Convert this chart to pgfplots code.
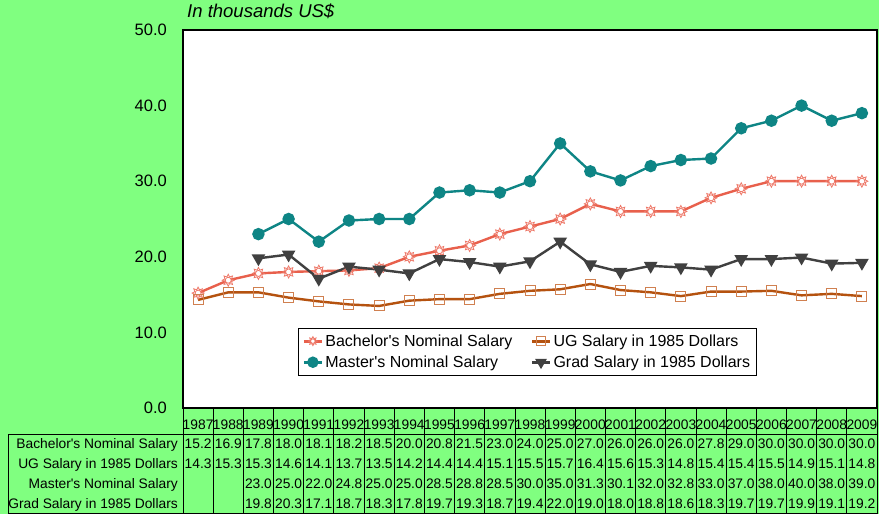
\documentclass[border=0pt]{standalone}
\usepackage{pgfplots}
\pgfplotsset{compat=1.18}
\usepackage{pgfplotstable}
\usetikzlibrary{plotmarks}
\usepackage{fontspec}
\setmainfont{Liberation Sans}
\definecolor{bg}{HTML}{80FF80}
\definecolor{bach}{HTML}{E8604C}
\definecolor{bachm}{HTML}{EE7868}
\definecolor{ug}{HTML}{B5520F}
\definecolor{ugm}{HTML}{D08050}
\definecolor{mast}{HTML}{0E8585}
\definecolor{grad}{HTML}{404040}

\pgfdeclareplotmark{sun}{%
  \pgfpathcircle{\pgfpointorigin}{0.5\pgfplotmarksize}%
  \pgfusepathqfillstroke
  \pgfpathmoveto{\pgfpointpolar{0}{\pgfplotmarksize}}%
  \pgfpathlineto{\pgfpointpolar{22.5}{0.6\pgfplotmarksize}}%
  \pgfpathlineto{\pgfpointpolar{45}{\pgfplotmarksize}}%
  \pgfpathlineto{\pgfpointpolar{67.5}{0.6\pgfplotmarksize}}%
  \pgfpathlineto{\pgfpointpolar{90}{\pgfplotmarksize}}%
  \pgfpathlineto{\pgfpointpolar{112.5}{0.6\pgfplotmarksize}}%
  \pgfpathlineto{\pgfpointpolar{135}{\pgfplotmarksize}}%
  \pgfpathlineto{\pgfpointpolar{157.5}{0.6\pgfplotmarksize}}%
  \pgfpathlineto{\pgfpointpolar{180}{\pgfplotmarksize}}%
  \pgfpathlineto{\pgfpointpolar{202.5}{0.6\pgfplotmarksize}}%
  \pgfpathlineto{\pgfpointpolar{225}{\pgfplotmarksize}}%
  \pgfpathlineto{\pgfpointpolar{247.5}{0.6\pgfplotmarksize}}%
  \pgfpathlineto{\pgfpointpolar{270}{\pgfplotmarksize}}%
  \pgfpathlineto{\pgfpointpolar{292.5}{0.6\pgfplotmarksize}}%
  \pgfpathlineto{\pgfpointpolar{315}{\pgfplotmarksize}}%
  \pgfpathlineto{\pgfpointpolar{337.5}{0.6\pgfplotmarksize}}%
  \pgfpathclose
  \pgfusepathqstroke
}

\pgfplotstableread{
x bach ug mast grad
0 15.2 14.3 nan nan
1 16.9 15.3 nan nan
2 17.8 15.3 23.0 19.8
3 18.0 14.6 25.0 20.3
4 18.1 14.1 22.0 17.1
5 18.2 13.7 24.8 18.7
6 18.5 13.5 25.0 18.3
7 20.0 14.2 25.0 17.8
8 20.8 14.4 28.5 19.7
9 21.5 14.4 28.8 19.3
10 23.0 15.1 28.5 18.7
11 24.0 15.5 30.0 19.4
12 25.0 15.7 35.0 22.0
13 27.0 16.4 31.3 19.0
14 26.0 15.6 30.1 18.0
15 26.0 15.3 32.0 18.8
16 26.0 14.8 32.8 18.6
17 27.8 15.4 33.0 18.3
18 29.0 15.4 37.0 19.7
19 30.0 15.5 38.0 19.7
20 30.0 14.9 40.0 19.9
21 30.0 15.1 38.0 19.1
22 30.0 14.8 39.0 19.2
}\data

\def\nanstr{nan}
\newcommand\tabfont{\fontsize{13.8}{15}\selectfont}

\begin{document}
\begin{tikzpicture}
\fill[bg] (-183pt,-106pt) rectangle (696pt,408pt);
\useasboundingbox (-183pt,-106pt) rectangle (696pt,408pt);
\begin{axis}[
  at={(0pt,0pt)}, anchor=south west,
  width=694pt, height=378pt, scale only axis,
  xmin=-0.5, xmax=22.5, ymin=0, ymax=50,
  axis background/.style={fill=white},
  axis line style={line width=1.6pt, black},
  ytick={0,10,20,30,40,50},
  major tick length=0pt,
  yticklabel style={/pgf/number format/.cd, fixed, precision=1, zerofill, assume math mode=true,
    /tikz/.cd, anchor=east, inner sep=0pt, xshift=-16pt, font=\fontsize{16.5}{18}\selectfont},
  xtick={0,...,22},
  xticklabels={1987,1988,1989,1990,1991,1992,1993,1994,1995,1996,1997,1998,1999,2000,2001,2002,2003,2004,2005,2006,2007,2008,2009},
  xticklabel style={anchor=base, inner sep=0pt, yshift=-22pt, font=\tabfont},
  legend style={at={(0.496,0.149)}, anchor=center, draw=black, fill=white,
    font=\fontsize{16}{18}\selectfont, inner xsep=4pt, inner ysep=4pt,
    /tikz/every even column/.append style={column sep=16pt},
    row sep=4pt},
  legend columns=2,
  legend cell align=left,
  legend image code/.code={%
    \draw[line width=3pt] (0pt,0pt) -- (18pt,0pt);
    \draw[mark size=4.5pt] plot coordinates {(9pt,0pt)};},
]
\addplot[bach, line width=2.4pt, mark=sun, mark size=6pt,
  mark options={draw=bachm, fill=white, line width=0.8pt}] table[x=x,y=bach] {\data};
\addlegendentry{Bachelor\textquotesingle s Nominal Salary}
\addplot[ug, line width=2.4pt, mark=square, mark size=5pt,
  mark options={draw=ugm, fill=none, line width=1pt}] table[x=x,y=ug] {\data};
\addlegendentry{UG Salary in 1985 Dollars}
\addplot[mast, line width=2.4pt, mark=*, mark size=5pt,
  mark options={fill=mast, draw=mast}] table[x=x,y=mast] {\data};
\addlegendentry{Master\textquotesingle s Nominal Salary}
\addplot[grad, line width=2.4pt, mark=triangle*, mark size=5.5pt,
  mark options={fill=grad, draw=grad, rotate=180}] table[x=x,y=grad] {\data};
\addlegendentry{Grad Salary in 1985 Dollars}
\end{axis}
% data table
\draw[line width=0.8pt] (-175pt,-26pt) rectangle (694pt,-105pt);
\foreach \i in {0,...,23} {
  \draw[line width=0.8pt] ({\i*694/23 pt},0pt) -- ({\i*694/23 pt},-105pt);
}
\foreach \col/\lab/\yb in {bach/Bachelor\textquotesingle s Nominal Salary/-41,ug/UG Salary in 1985 Dollars/-61,mast/Master\textquotesingle s Nominal Salary/-81,grad/Grad Salary in 1985 Dollars/-101} {
  \node[anchor=base east, inner sep=0pt, font=\tabfont] at (-5pt,\yb pt) {\lab};
  \foreach \i in {0,...,22} {
    \pgfplotstablegetelem{\i}{\col}\of\data
    \ifx\pgfplotsretval\nanstr\else
      \node[anchor=base, inner sep=0pt, font=\tabfont] at ({(\i+0.5)*694/23 pt},\yb pt)
        {\pgfmathprintnumber[fixed,precision=1,zerofill,assume math mode=true]{\pgfplotsretval}};
    \fi
  }
}
\node[anchor=base west, inner sep=0pt, font=\itshape\fontsize{18.5}{20}\selectfont] at (4pt,390pt) {In thousands US\$};
\end{tikzpicture}
\end{document}
